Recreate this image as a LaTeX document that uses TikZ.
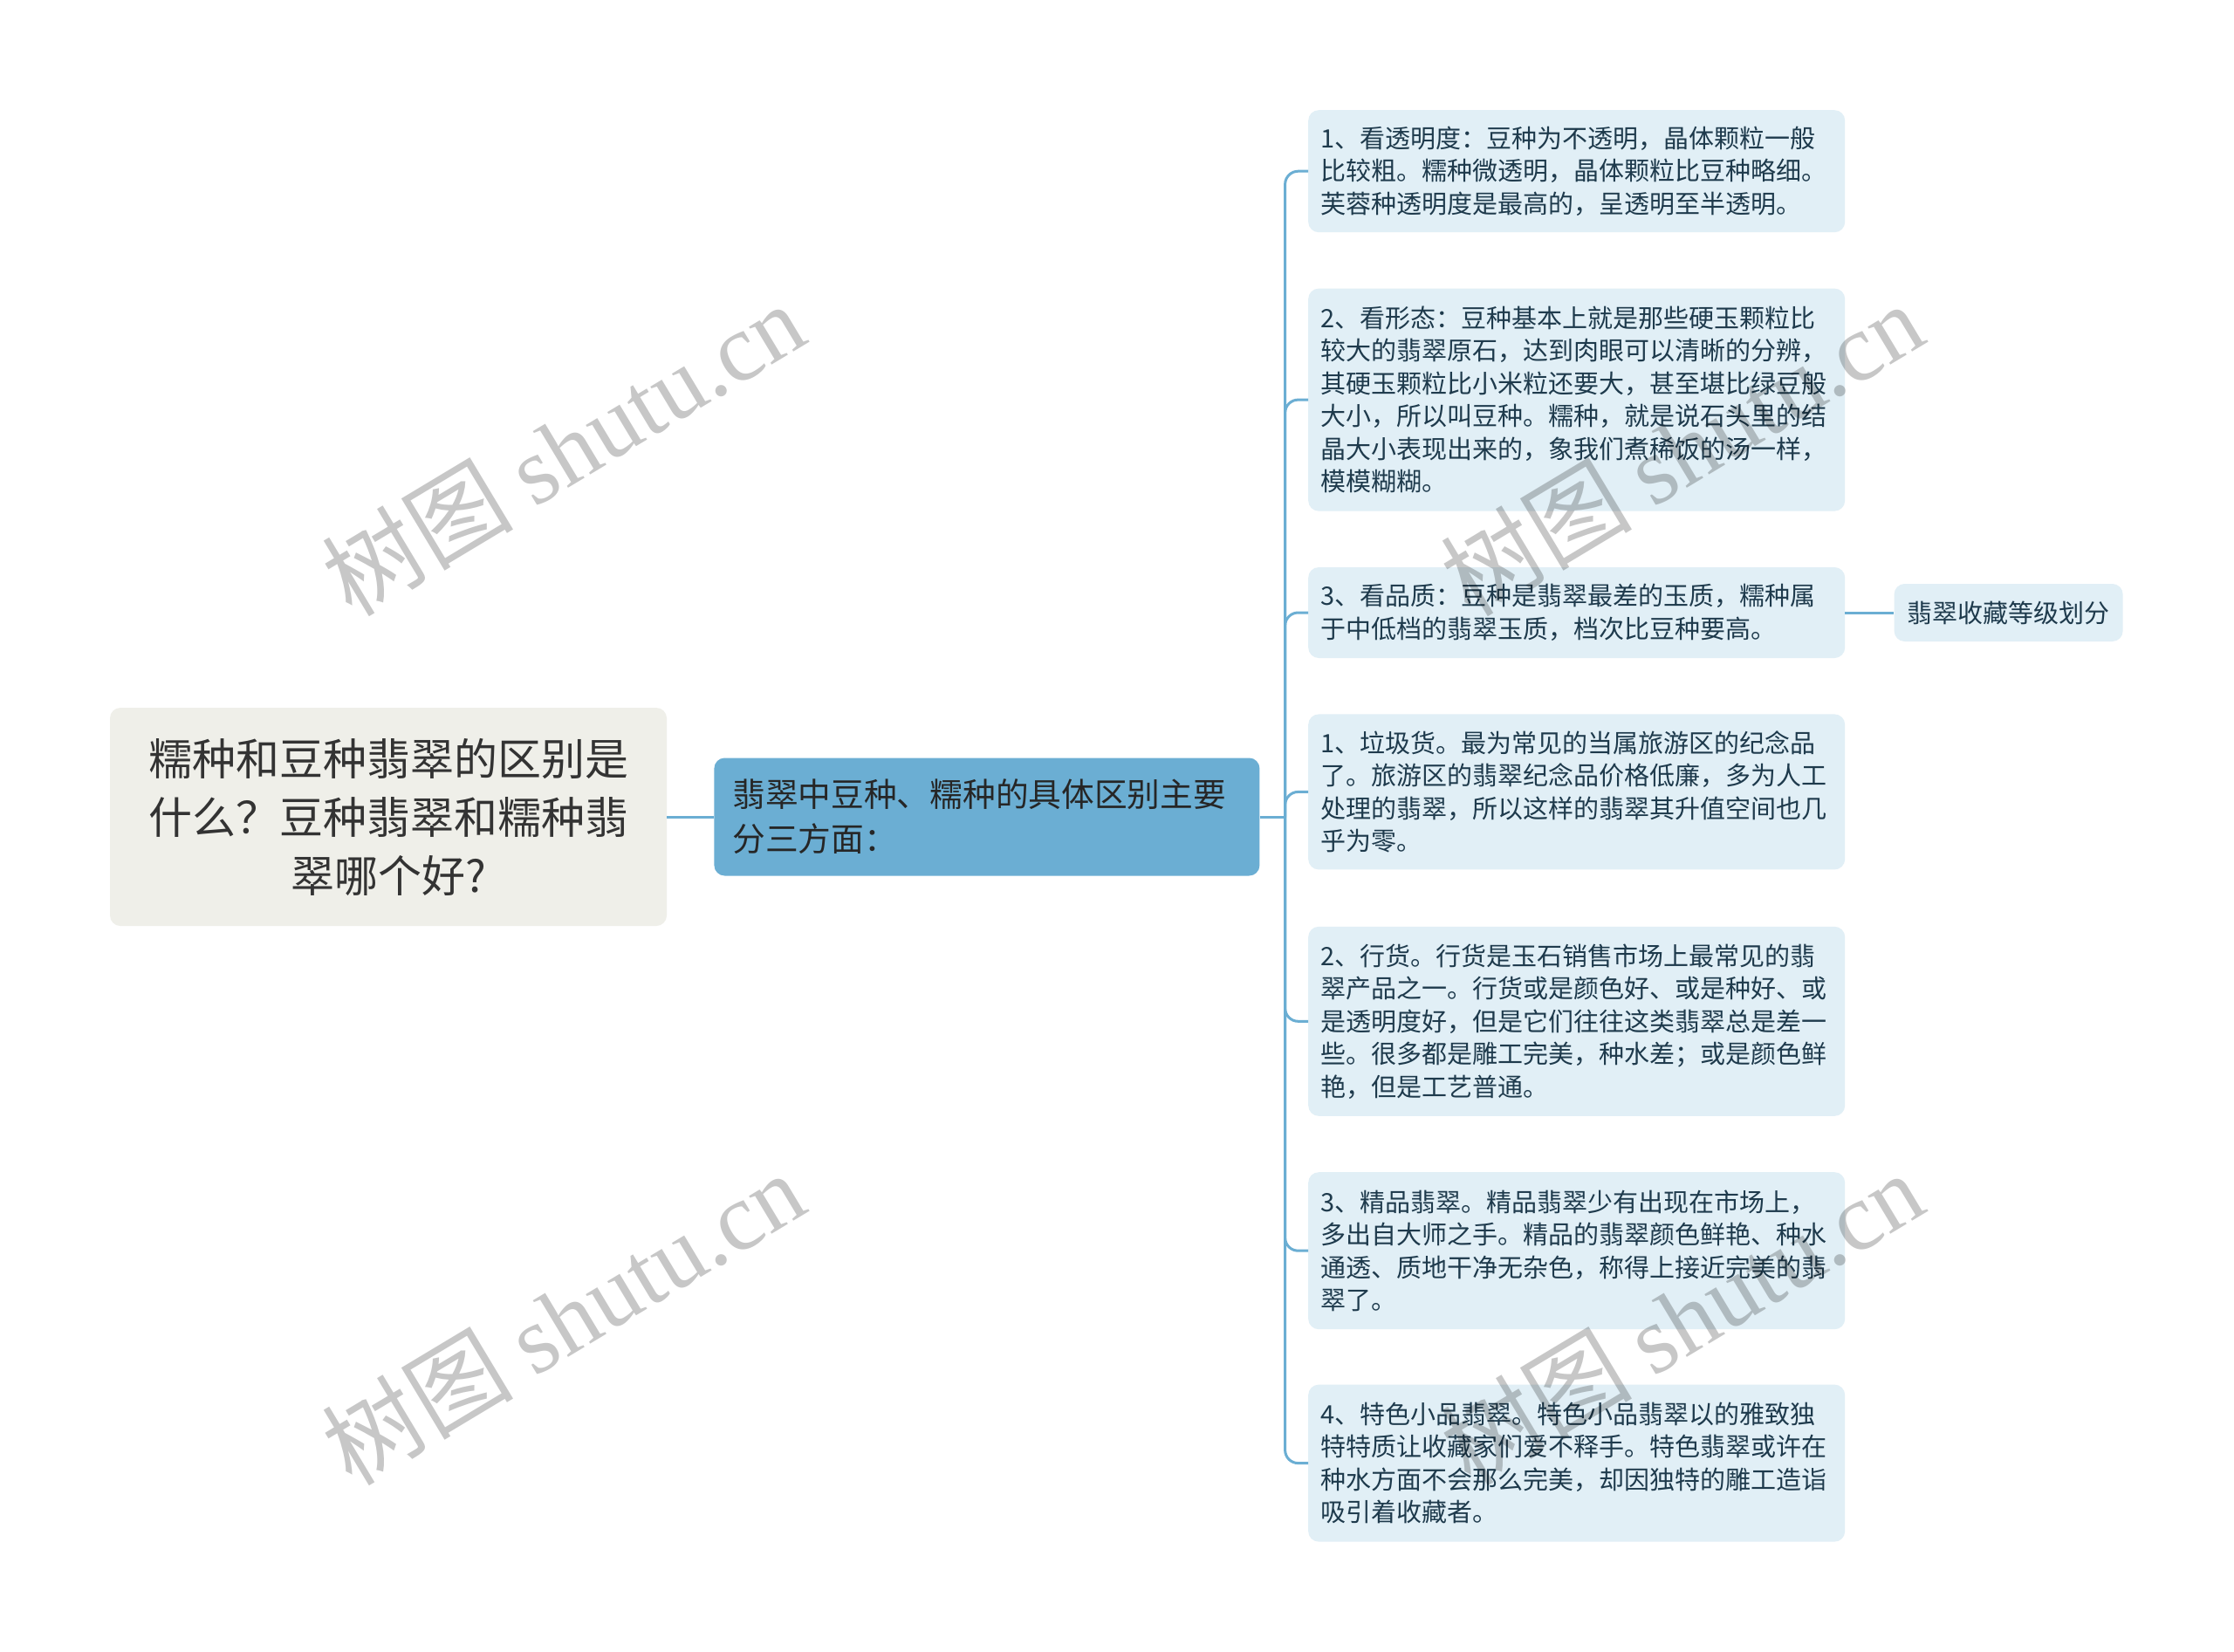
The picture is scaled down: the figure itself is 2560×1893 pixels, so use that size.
\documentclass[tikz,border=0pt]{standalone}
\usepackage{fontspec}
\setmainfont{Noto Sans CJK SC}
\newfontfamily\markfont{Liberation Serif}
\usetikzlibrary{positioning}
\definecolor{rootfill}{HTML}{EFEFE9}
\definecolor{mainfill}{HTML}{6BAED3}
\definecolor{leaffill}{HTML}{E1EFF6}
\definecolor{leaftext}{HTML}{1E3A4C}
\definecolor{linkblue}{HTML}{6BAED3}
\tikzset{root style/.style={
		fill=rootfill,
		rounded corners=12pt,
		text=black!80,
		align=center,
		minimum width=638pt,
		minimum height=250pt,
		font=\fontsize{50}{67}\selectfont,
	},
	main style/.style={
		fill=mainfill,
		rounded corners=12pt,
		text=black!85,
		text width=583pt,
		align=left,
		inner xsep=21pt,
		minimum width=625pt,
		minimum height=135pt,
		font=\fontsize{37.7}{51}\selectfont,
	},
	leaf style/.style={
		fill=leaffill,
		rounded corners=12pt,
		text=leaftext,
		text width=587pt,
		align=left,
		inner xsep=14pt,
		minimum width=615pt,
		font=\fontsize{29}{37.5}\selectfont,
	},
	tag style/.style={
		fill=leaffill,
		rounded corners=12pt,
		text=leaftext,
		inner xsep=15pt,
		minimum height=66pt,
		font=\fontsize{29}{37.5}\selectfont,
	},
	edge style/.style={
		draw=linkblue,
		line width=3pt,
		rounded corners=15pt,
	},
	mark style/.style={
		rotate=31,
		text=black,
		text opacity=0.22,
		font=\fontsize{110}{120}\selectfont,
	}
}

\begin{document}
\begin{tikzpicture}
	\useasboundingbox (0pt,0pt) rectangle (2560pt,-1893pt);
	\fill[white] (0pt,0pt) rectangle (2560pt,-1893pt);

	\node[root style] (root) at (445pt,-936pt) {糯种和豆种翡翠的区别是\\什么？豆种翡翠和糯种翡\\翠哪个好?};
	\node[main style, right=54pt of root] (main) {翡翠中豆种、糯种的具体区别主要\\分三方面：};
	\coordinate[right=29pt of main] (fork);

	\node[leaf style, minimum height=140pt, anchor=north west] (see1) at (1499pt,-126pt) {1、看透明度：豆种为不透明，晶体颗粒一般\\比较粗。糯种微透明，晶体颗粒比豆种略细。\\芙蓉种透明度是最高的，呈透明至半透明。};
	\node[leaf style, minimum height=255pt, below=64pt of see1] (see2) {2、看形态：豆种基本上就是那些硬玉颗粒比\\较大的翡翠原石，达到肉眼可以清晰的分辨，\\其硬玉颗粒比小米粒还要大，甚至堪比绿豆般\\大小，所以叫豆种。糯种，就是说石头里的结\\晶大小表现出来的，象我们煮稀饭的汤一样，\\模模糊糊。};
	\node[leaf style, minimum height=104pt, below=64pt of see2] (see3) {3、看品质：豆种是翡翠最差的玉质，糯种属\\于中低档的翡翠玉质，档次比豆种要高。};
	\node[tag style, right=56pt of see3] (grade) {翡翠收藏等级划分};
	\node[leaf style, minimum height=178pt, below=64pt of see3] (junk) {1、垃圾货。最为常见的当属旅游区的纪念品\\了。旅游区的翡翠纪念品价格低廉，多为人工\\处理的翡翠，所以这样的翡翠其升值空间也几\\乎为零。};
	\node[leaf style, minimum height=217pt, below=65pt of junk] (trade) {2、行货。行货是玉石销售市场上最常见的翡\\翠产品之一。行货或是颜色好、或是种好、或\\是透明度好，但是它们往往这类翡翠总是差一\\些。很多都是雕工完美，种水差；或是颜色鲜\\艳，但是工艺普通。};
	\node[leaf style, minimum height=180pt, below=64pt of trade] (fine) {3、精品翡翠。精品翡翠少有出现在市场上，\\多出自大师之手。精品的翡翠颜色鲜艳、种水\\通透、质地干净无杂色，称得上接近完美的翡\\翠了。};
	\node[leaf style, minimum height=180pt, below=63pt of fine] (small) {4、特色小品翡翠。特色小品翡翠以的雅致独\\特特质让收藏家们爱不释手。特色翡翠或许在\\种水方面不会那么完美，却因独特的雕工造诣\\吸引着收藏者。};

	\draw[edge style] (root) -- (main);
	\draw[edge style] (main) -- (fork);
	\draw[edge style] (fork) |- (see1);
	\draw[edge style] (fork) |- (see2);
	\draw[edge style] (fork) |- (see3);
	\draw[edge style] (fork) |- (junk);
	\draw[edge style] (fork) |- (trade);
	\draw[edge style] (fork) |- (fine);
	\draw[edge style] (fork) |- (small);
	\draw[edge style] (see3) -- (grade);

	\node[mark style] (mark1) at (645pt,-514pt) {树图 {\markfont shutu.cn}};
	\node[mark style] (mark2) at (645pt,-1510pt) {树图 {\markfont shutu.cn}};
	\node[mark style] (mark3) at (1927pt,-514pt) {树图 {\markfont shutu.cn}};
	\node[mark style] (mark4) at (1927pt,-1510pt) {树图 {\markfont shutu.cn}};
\end{tikzpicture}
\end{document}
